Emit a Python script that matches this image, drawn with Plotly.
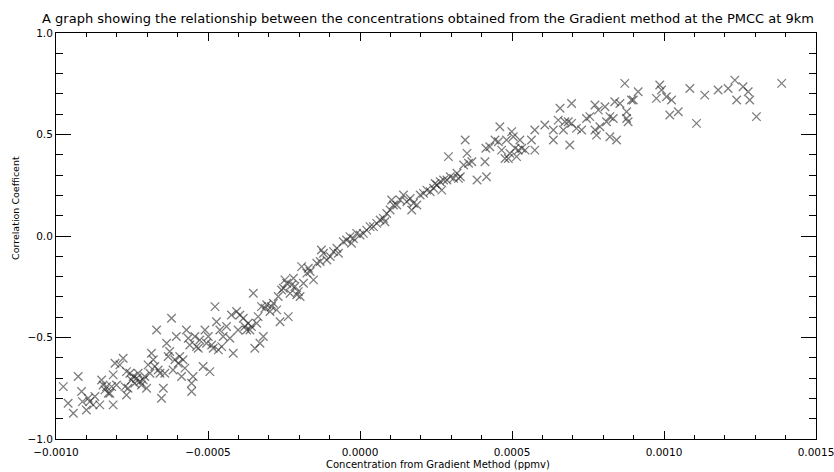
import plotly.graph_objects as go

# Concentration from the gradient method, in pptv (1 pptv = 1e-6 ppmv)
conc_pptv = [
    -976, -960, -943, -927, -916, -913, -900, -894, -889, -878, -872, -856, -850, -845, -839,
    -834, -828, -823, -817, -812, -812, -806, -801, -790, -779, -773, -768, -768, -763, -757,
    -752, -746, -741, -735, -730, -724, -719, -713, -708, -702, -697, -691, -686, -680, -675,
    -669, -664, -658, -653, -647, -642, -636, -631, -626, -620, -615, -609, -604, -598, -593,
    -587, -582, -576, -571, -565, -560, -554, -554, -549, -543, -538, -532, -527, -516, -510,
    -505, -499, -494, -488, -483, -477, -472, -466, -461, -455, -450, -439, -428, -423, -417,
    -406, -401, -395, -384, -379, -373, -368, -362, -357, -351, -346, -340, -335, -329, -324,
    -318, -313, -307, -296, -291, -285, -274, -269, -263, -258, -252, -247, -241, -236, -230,
    -225, -219, -214, -208, -203, -197, -192, -186, -175, -170, -164, -153, -142, -131, -127,
    -120, -109, -98, -87, -76, -71,
    -55, -44, -33, -28, -22, -11, 0, 11, 22, 33, 44, 55, 66, 77, 82, 88, 99, 104, 110, 121,
    132, 143, 154, 165, 170, 176, 187, 198, 209, 220, 231, 242, 247, 253, 264, 269, 275, 286,
    291, 297, 308, 319, 324, 330, 341, 346, 352, 357, 368, 385,
    411, 416, 414, 427, 444, 455, 460, 466, 477, 482, 488, 493, 499, 504, 510, 515, 521, 526,
    532, 543, 564, 575, 575, 608, 636, 636, 652, 658, 669, 674, 685, 690, 696, 696, 712, 729,
    745, 756, 773, 773, 778, 784, 789, 806, 811, 822, 822, 833, 844, 838, 855, 871, 877, 877,
    882, 893, 899, 915, 975, 986, 992, 1008, 1019, 1025, 1047, 1085, 1107, 1134, 1178, 1211,
    1233, 1239, 1260, 1277, 1282, 1304, 1387,
]

# Pearson product-moment correlation coefficient
corr = [
    -0.742, -0.824, -0.873, -0.692, -0.766, -0.816, -0.857, -0.799, -0.816, -0.832, -0.791,
    -0.832, -0.709, -0.734, -0.758, -0.742, -0.775, -0.775, -0.742, -0.832, -0.684, -0.627,
    -0.734, -0.635, -0.602, -0.742, -0.668, -0.783, -0.750, -0.676, -0.709, -0.692, -0.725,
    -0.701, -0.676, -0.717, -0.734, -0.709, -0.692, -0.750, -0.635, -0.676, -0.578, -0.610,
    -0.643, -0.463, -0.660, -0.676, -0.799, -0.750, -0.676, -0.528, -0.594, -0.569, -0.405,
    -0.660, -0.610, -0.495, -0.627, -0.594, -0.692, -0.610, -0.651, -0.463, -0.504, -0.537,
    -0.766, -0.725, -0.692, -0.495, -0.545, -0.553, -0.512, -0.643, -0.463, -0.528, -0.495,
    -0.668, -0.537, -0.553, -0.348, -0.422, -0.561, -0.463, -0.545, -0.495, -0.446, -0.504,
    -0.389, -0.578, -0.372, -0.463, -0.389, -0.405, -0.446, -0.463, -0.430, -0.463, -0.446,
    -0.282, -0.553, -0.430, -0.397, -0.528, -0.348, -0.495, -0.356, -0.339, -0.372, -0.348,
    -0.331, -0.364, -0.298, -0.422, -0.266, -0.257, -0.216, -0.233, -0.397, -0.282, -0.241,
    -0.208, -0.249, -0.290, -0.274, -0.298, -0.151, -0.233, -0.183, -0.159, -0.175, -0.216,
    -0.134, -0.126, -0.069, -0.085, -0.118, -0.101, -0.077, -0.060, -0.085,
    -0.028, -0.020, -0.003, -0.036, -0.012, 0.013, 0.005, 0.013, 0.029, 0.046, 0.046, 0.062,
    0.079, 0.087, 0.070, 0.111, 0.128, 0.177, 0.153, 0.153, 0.177, 0.202, 0.169, 0.185, 0.128,
    0.161, 0.153, 0.202, 0.210, 0.226, 0.218, 0.235, 0.259, 0.251, 0.267, 0.226, 0.276, 0.276,
    0.391, 0.292, 0.284, 0.309, 0.284, 0.292, 0.350, 0.473, 0.407, 0.358, 0.366, 0.276,
    0.366, 0.292, 0.432, 0.440, 0.473, 0.464, 0.538, 0.423, 0.382, 0.473, 0.382, 0.407, 0.514,
    0.489, 0.432, 0.391, 0.423, 0.473, 0.432, 0.423, 0.473, 0.423, 0.522, 0.547, 0.522, 0.473,
    0.571, 0.629, 0.522, 0.563, 0.563, 0.448, 0.653, 0.555, 0.530, 0.522, 0.579, 0.588, 0.645,
    0.522, 0.497, 0.620, 0.538, 0.637, 0.563, 0.588, 0.489, 0.579, 0.473, 0.661, 0.653, 0.752,
    0.612, 0.579, 0.563, 0.670, 0.670, 0.711, 0.678, 0.744, 0.719, 0.686, 0.596, 0.670, 0.612,
    0.727, 0.555, 0.694, 0.719, 0.727, 0.768, 0.670, 0.735, 0.711, 0.670, 0.588, 0.752,
]

x_major = [-0.0010, -0.0005, 0.0000, 0.0005, 0.0010, 0.0015]
y_major = [-1.0, -0.5, 0.0, 0.5, 1.0]

title_text = ("A graph showing the relationship between the concentrations obtained "
              "from the Gradient method at the PMCC at 9km")
x_title = "Concentration from Gradient Method (ppmv)"
y_title = "Correlation Coefficent"

conc_ppmv = [v * 1e-6 for v in conc_pptv]

FONT = "DejaVu Sans"
mcol = "rgba(45,45,45,0.62)"

fig = go.Figure()
fig.add_trace(go.Scatter(
    x=conc_ppmv, y=corr, mode="markers",
    marker=dict(symbol="x-thin-open", size=8.5, color=mcol,
                line=dict(color=mcol, width=1.3)),
    showlegend=False, hoverinfo="skip",
))

L, R, T, B = 56, 18, 33, 33
W, H = 834, 472
fig.update_layout(
    width=W, height=H,
    margin=dict(l=L, r=R, t=T, b=B, pad=0),
    paper_bgcolor="white", plot_bgcolor="white",
    font=dict(family=FONT, color="black", size=10),
    title=dict(text=title_text, x=428 / W, xanchor="center",
               y=1 - 18 / H, yanchor="middle", yref="container",
               font=dict(family=FONT, size=13, color="black")),
)
fig.update_xaxes(
    range=[-0.001, 0.0015], tickmode="array", tickvals=x_major,
    tickformat=".4f", ticks="inside", ticklen=8, tickwidth=1, tickcolor="black",
    minor=dict(ticks="inside", dtick=0.0001, ticklen=4, tickcolor="black", tickwidth=1, showgrid=False),
    showgrid=False, zeroline=False, showline=True, linecolor="black", linewidth=1,
    mirror="ticks", tickfont=dict(family=FONT, size=10.5, color="black"),
    ticklabeloverflow="allow", automargin=False, ticklabelstandoff=3,
)
fig.update_yaxes(
    range=[-1, 1], tickmode="array", tickvals=y_major,
    tickformat=".1f", ticks="inside", ticklen=15, tickwidth=1, tickcolor="black",
    minor=dict(ticks="inside", dtick=0.1, ticklen=7, tickcolor="black", tickwidth=1, showgrid=False),
    showgrid=False, zeroline=False, showline=True, linecolor="black", linewidth=1,
    mirror="ticks", tickfont=dict(family=FONT, size=10.5, color="black"),
    ticklabeloverflow="allow", automargin=False,
)
PW, PH = W - L - R, H - T - B
fig.add_annotation(text=x_title, xref="paper", yref="paper",
                   x=(438 - L) / PW, y=(H - B - 464) / PH, xanchor="center", yanchor="middle",
                   showarrow=False, font=dict(family=FONT, size=10, color="black"))
fig.add_annotation(text=y_title, xref="paper", yref="paper", textangle=-90,
                   x=(15 - L) / PW, y=(H - B - 208) / PH, xanchor="center", yanchor="middle",
                   showarrow=False, font=dict(family=FONT, size=9.5, color="black"))

fig.write_html("out.html", config={"displayModeBar": False},
               post_script="document.body.style.margin='0';document.body.style.overflow='hidden';")
